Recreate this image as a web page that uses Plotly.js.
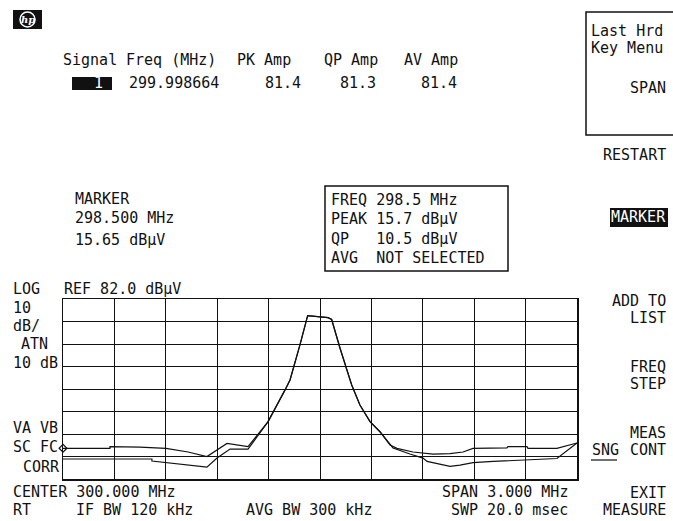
<!DOCTYPE html>
<html>
<head>
<meta charset="utf-8">
<script src="https://cdn.plot.ly/plotly-3.0.1.min.js"></script>
<style>html,body{margin:0;padding:0;background:#fff;}#chart{width:673px;height:521px;}</style>
</head>
<body>
<div id="chart"></div>
<script>
// ---- data (MHz, dBµV) ----
const freqUpper = [298.500, 298.774, 298.774, 298.949, 299.101, 299.230, 299.340, 299.457, 299.580, 299.697, 299.796, 299.825, 299.883, 299.928, 300.047, 300.068, 300.117, 300.185, 300.233, 300.292, 300.350, 300.409, 300.449, 300.543, 300.660, 300.759, 300.835, 300.893, 301.091, 301.097, 301.208, 301.214, 301.383, 301.500];
const ampUpper  = [15.6, 15.6, 16.4, 16.2, 15.6, 14.0, 12.0, 17.8, 16.4, 27.5, 41.6, 46.0, 61.6, 74.6, 73.7, 72.9, 60.1, 43.8, 34.9, 27.5, 23.0, 17.1, 15.6, 14.0, 13.1, 13.3, 14.0, 15.6, 15.8, 16.4, 16.4, 15.6, 15.6, 18.0];
const freqLower = [298.500, 299.019, 299.019, 299.340, 299.399, 299.475, 299.580, 299.697, 299.796, 299.825, 299.883, 299.928, 300.047, 300.068, 300.117, 300.185, 300.233, 300.292, 300.350, 300.426, 300.525, 300.601, 300.625, 300.759, 300.817, 300.893, 301.010, 301.383, 301.500];
const ampLower  = [10.9, 10.9, 10.0, 7.3, 11.3, 15.3, 15.3, 27.5, 41.6, 46.0, 61.6, 74.6, 73.7, 72.9, 60.1, 43.8, 34.9, 27.5, 23.0, 15.8, 13.1, 11.3, 9.8, 7.6, 8.2, 9.3, 9.8, 11.1, 18.0];
const markerFreq = [298.5];
const markerAmp  = [15.65];
const freqRange = [298.5, 301.5];
const ampRange  = [2, 82];

// ---- text content ----
const tableHeader = ["Signal", "Freq (MHz)", "PK Amp", "QP Amp", "AV Amp"];
const tableRow = ["1", "299.998664", "81.4", "81.3", "81.4"];
const markerLines = ["MARKER", "298.500 MHz", "15.65 dBµV"];
const boxLines = ["FREQ 298.5 MHz", "PEAK 15.7 dBµV", "QP   10.5 dBµV", "AVG  NOT SELECTED"];
const softkeys = ["SPAN", "RESTART", "MARKER", "ADD TO", "LIST", "FREQ", "STEP", "MEAS", "CONT", "EXIT", "MEASURE"];

// ---- pixel helpers ----
const L = 63, R = 577, T = 299, B = 479;
const px = x => (x - L) / (R - L);
const py = y => (B - y) / (B - T);
const FONT = "DejaVu Sans Mono, monospace";
const FS = 15;
function txt(s, x, y, anchor, extra) {
  return Object.assign({
    xref: 'paper', yref: 'paper', x: px(x), y: py(y),
    xanchor: anchor || 'left', yanchor: 'middle',
    text: s, showarrow: false, borderpad: 0,
    font: {family: FONT, size: FS, color: '#111'}
  }, extra || {});
}
function rect(x0, y0, x1, y1, fill, lw) {
  return {type: 'rect', xref: 'paper', yref: 'paper', x0: px(x0), x1: px(x1), y0: py(y0), y1: py(y1),
    fillcolor: fill || 'rgba(0,0,0,0)', line: {color: '#111', width: lw === undefined ? 1.5 : lw}};
}

const annotations = [
  // top table
  txt(tableHeader[0], 62, 60), txt(tableHeader[1], 125, 60), txt(tableHeader[2], 236, 60),
  txt(tableHeader[3], 323, 60), txt(tableHeader[4], 403, 60),
  txt(tableRow[0], 98, 83, 'center', {font: {family: FONT, size: FS, color: '#fff'}}),
  txt(tableRow[1], 128, 83), txt(tableRow[2], 302, 83, 'right'),
  txt(tableRow[3], 377, 83, 'right'), txt(tableRow[4], 458, 83, 'right'),
  // hp logo
  txt('hp', 27.5, 19, 'center', {font: {family: 'DejaVu Serif, serif', size: 10, color: '#fff', weight: 'bold', style: 'italic'}}),
  // marker readout
  txt(markerLines[0], 74, 199), txt(markerLines[1], 74, 218), txt(markerLines[2], 74, 240),
  // marker box
  txt(boxLines[0], 330, 200), txt(boxLines[1], 330, 219), txt(boxLines[2], 330, 239), txt(boxLines[3], 330, 258),
  // left labels
  txt('LOG', 12, 289), txt('REF 82.0 dBµV', 63, 289),
  txt('10', 12, 308), txt('dB/', 12, 326), txt('ATN', 20, 344), txt('10 dB', 12, 363),
  txt('VA VB', 12, 428), txt('SC FC', 12, 447), txt('CORR', 22, 467),
  // bottom labels
  txt('CENTER 300.000 MHz', 12, 492), txt('SPAN 3.000 MHz', 569, 492, 'right'),
  txt('RT', 12, 510), txt('IF BW 120 kHz', 75, 510), txt('AVG BW 300 kHz', 245, 510),
  txt('SWP 20.0 msec', 569, 510, 'right'),
  // softkeys
  txt('Last Hrd', 590, 31), txt('Key Menu', 590, 48),
  txt(softkeys[0], 667, 88, 'right'), txt(softkeys[1], 667, 155, 'right'),
  txt(softkeys[2], 667, 217, 'right', {font: {family: FONT, size: FS, color: '#fff'}}),
  txt(softkeys[3], 667, 301, 'right'), txt(softkeys[4], 667, 318, 'right'),
  txt(softkeys[5], 667, 367, 'right'), txt(softkeys[6], 667, 384, 'right'),
  txt(softkeys[7], 667, 433, 'right'), txt('SNG', 591, 450), txt(softkeys[8], 667, 450, 'right'),
  txt(softkeys[9], 667, 493, 'right'), txt(softkeys[10], 667, 510, 'right')
];

const shapes = [
  {type: 'rect', xref: 'paper', yref: 'paper', x0: px(13), x1: px(42), y0: py(10), y1: py(29), fillcolor: '#111', line: {width: 0}},
  {type: 'circle', xref: 'paper', yref: 'paper', x0: px(20), x1: px(35), y0: py(12), y1: py(27), fillcolor: 'rgba(0,0,0,0)', line: {color: '#fff', width: 1.5}},
  {type: 'rect', xref: 'paper', yref: 'paper', x0: px(72), x1: px(112), y0: py(77), y1: py(90), fillcolor: '#111', line: {width: 0}},
  rect(325, 186, 508, 271),
  rect(586, 12, 680, 135),
  {type: 'rect', xref: 'paper', yref: 'paper', x0: px(610), x1: px(668), y0: py(208), y1: py(227), fillcolor: '#111', line: {width: 0}, layer: 'below'},
  {type: 'line', xref: 'paper', yref: 'paper', x0: px(591), x1: px(617), y0: py(460), y1: py(460), line: {color: '#111', width: 1.2}}
];

const traces = [
  {x: freqUpper, y: ampUpper, type: 'scatter', mode: 'lines', line: {color: '#111', width: 1.2}, hoverinfo: 'skip'},
  {x: freqLower, y: ampLower, type: 'scatter', mode: 'lines', line: {color: '#111', width: 1.2}, hoverinfo: 'skip'},
  {x: markerFreq, y: markerAmp, type: 'scatter', mode: 'markers', cliponaxis: false,
   marker: {symbol: 'diamond-open', size: 6, color: '#111', line: {width: 1.2}}, hoverinfo: 'skip'}
];

const layout = {
  width: 673, height: 521,
  margin: {l: L, r: 673 - R, t: T, b: 521 - B, pad: 0},
  paper_bgcolor: '#fff', plot_bgcolor: '#fff',
  showlegend: false,
  xaxis: {range: freqRange, tick0: 298.5, dtick: 0.3, showticklabels: false, ticks: '',
    showgrid: true, gridcolor: '#111', gridwidth: 1, zeroline: false,
    showline: true, mirror: true, linecolor: '#111', linewidth: 1.5, fixedrange: true},
  yaxis: {range: ampRange, tick0: 2, dtick: 10, showticklabels: false, ticks: '',
    showgrid: true, gridcolor: '#111', gridwidth: 1, zeroline: false,
    showline: true, mirror: true, linecolor: '#111', linewidth: 1.5, fixedrange: true},
  annotations: annotations,
  shapes: shapes
};

Plotly.newPlot('chart', traces, layout, {displayModeBar: false, staticPlot: true});
</script>
</body>
</html>
